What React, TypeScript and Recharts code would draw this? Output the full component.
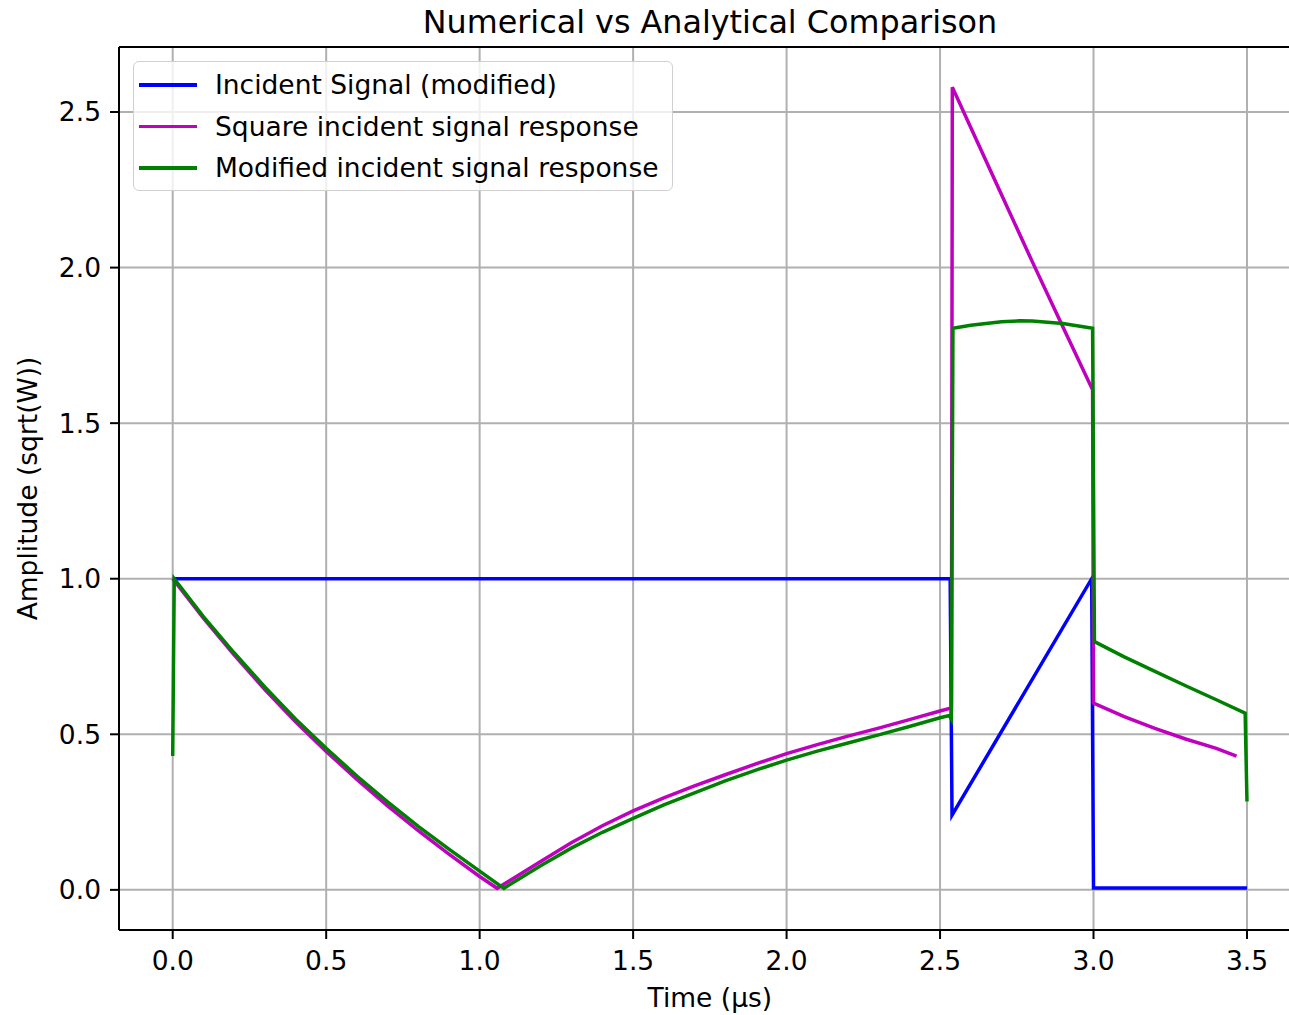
import React from "react";
import {
  CartesianGrid,
  Label,
  Legend,
  Line,
  LineChart,
  ReferenceLine,
  XAxis,
  YAxis,
} from "recharts";

// time axis in µs, amplitude in sqrt(W)
const incidentT = [0, 2.533, 2.539, 2.994, 3.0, 3.5];
const incidentV = [1.0, 1.0, 0.24, 1.0, 0.006, 0.006];

const squareT = [
  0, 0.1, 0.2, 0.3, 0.4, 0.5, 0.6, 0.7, 0.8, 0.9, 1.0, 1.057, 1.1, 1.2, 1.3,
  1.4, 1.5, 1.6, 1.7, 1.8, 1.9, 2.0, 2.1, 2.2, 2.3, 2.4, 2.5, 2.537, 2.54,
  2.6, 2.7, 2.8, 2.9, 2.997, 3.0, 3.1, 3.2, 3.3, 3.4, 3.466,
];
const squareV = [
  1.0, 0.873, 0.755, 0.644, 0.54, 0.445, 0.355, 0.27, 0.19, 0.115, 0.043,
  0.005, 0.031, 0.092, 0.152, 0.206, 0.254, 0.296, 0.334, 0.37, 0.405, 0.438,
  0.467, 0.494, 0.52, 0.547, 0.575, 0.585, 2.58, 2.45, 2.235, 2.02, 1.81,
  1.607, 0.6, 0.557, 0.519, 0.485, 0.455, 0.43,
];

const modifiedT = [
  0, 0.005, 0.1, 0.2, 0.3, 0.4, 0.5, 0.6, 0.7, 0.8, 0.9, 1.0, 1.079, 1.1, 1.2,
  1.3, 1.4, 1.5, 1.6, 1.7, 1.8, 1.9, 2.0, 2.1, 2.2, 2.3, 2.4, 2.5, 2.53,
  2.537, 2.542, 2.6, 2.7, 2.76, 2.8, 2.9, 2.997, 3.003, 3.1, 3.2, 3.3, 3.4,
  3.494, 3.5,
];
const modifiedV = [
  0.43, 1.0, 0.878, 0.762, 0.652, 0.549, 0.455, 0.366, 0.283, 0.204, 0.131,
  0.06, 0.005, 0.018, 0.078, 0.135, 0.185, 0.23, 0.273, 0.312, 0.35, 0.385,
  0.417, 0.446, 0.472, 0.498, 0.525, 0.553, 0.56, 0.548, 1.805, 1.815, 1.826,
  1.829, 1.828, 1.82, 1.805, 0.798, 0.749, 0.702, 0.656, 0.611, 0.568, 0.284,
];

const seriesNames = [
  "Incident Signal (modified)",
  "Square incident signal response",
  "Modified incident signal response",
];

const xTicks = [0, 0.5, 1.0, 1.5, 2.0, 2.5, 3.0, 3.5];
const yTicks = [0, 0.5, 1.0, 1.5, 2.0, 2.5];
const X_MIN = -0.175;
const X_MAX = 3.675;
const Y_MIN = -0.129;
const Y_MAX = 2.709;

const FONT = "'DejaVu Sans', sans-serif";
const FS = 26.5;

function toPoints(ts: number[], vs: number[]) {
  return ts.map((t, i) => ({ t, v: vs[i] }));
}

const incident = toPoints(incidentT, incidentV);
const square = toPoints(squareT, squareV);
const modified = toPoints(modifiedT, modifiedV);

function LegendBox(props: any) {
  // keep plotting order, recharts sorts by name otherwise
  const items = [...(props.payload || [])].sort(
    (a: any, b: any) => seriesNames.indexOf(a.value) - seriesNames.indexOf(b.value)
  );
  return (
    <div
      style={{
        width: 540,
        height: 130,
        border: "1.5px solid #d0d0d0",
        borderRadius: 6,
        background: "rgba(255,255,255,0.8)",
        fontFamily: FONT,
        fontSize: FS,
        color: "#000",
        boxSizing: "border-box",
        paddingTop: 2,
      }}
    >
      {items.map((it: any) => (
        <div
          key={it.value}
          style={{ display: "flex", alignItems: "center", height: 41.5 }}
        >
          <div
            style={{
              marginLeft: 5,
              width: 58,
              height: 3.5,
              background: it.color,
            }}
          />
          <span style={{ marginLeft: 18, whiteSpace: "nowrap" }}>
            {it.value}
          </span>
        </div>
      ))}
    </div>
  );
}

export default function App() {
  return (
    <div
      style={{
        position: "absolute",
        left: 0,
        top: 0,
        width: 1289,
        height: 1015,
        overflow: "hidden",
        background: "#fff",
      }}
    >
      <div
        style={{
          position: "absolute",
          left: 119,
          width: 1182,
          top: 3,
          textAlign: "center",
          fontFamily: FONT,
          fontSize: 31.8,
          color: "#000",
          whiteSpace: "nowrap",
        }}
      >
        Numerical vs Analytical Comparison
      </div>
      <LineChart
        width={1320}
        height={1015}
        margin={{ top: 47, right: 19.3, bottom: 0, left: 0 }}
        style={{ position: "absolute", left: 0, top: 0 }}
      >
        <CartesianGrid stroke="#b0b0b0" strokeWidth={2} />
        <XAxis
          dataKey="t"
          type="number"
          domain={[X_MIN, X_MAX]}
          allowDataOverflow
          ticks={xTicks}
          tickFormatter={(v: number) => v.toFixed(1)}
          height={85}
          tickSize={9}
          tickMargin={12}
          axisLine={{ stroke: "#000", strokeWidth: 2 }}
          tickLine={{ stroke: "#000", strokeWidth: 2 }}
          tick={{ fontSize: FS, fill: "#000", fontFamily: FONT }}
        >
          <Label
            value="Time (µs)"
            position="insideBottom"
            offset={8}
            style={{ fontSize: FS, fill: "#000", fontFamily: FONT }}
          />
        </XAxis>
        <YAxis
          type="number"
          domain={[Y_MIN, Y_MAX]}
          allowDataOverflow
          ticks={yTicks}
          tickFormatter={(v: number) => v.toFixed(1)}
          width={119}
          tickSize={9}
          tickMargin={9}
          axisLine={{ stroke: "#000", strokeWidth: 2 }}
          tickLine={{ stroke: "#000", strokeWidth: 2 }}
          tick={{ fontSize: FS, fill: "#000", fontFamily: FONT }}
        >
          <Label
            value="Amplitude (sqrt(W))"
            position="insideLeft"
            angle={-90}
            offset={28}
            style={{
              fontSize: FS,
              fill: "#000",
              fontFamily: FONT,
              textAnchor: "middle",
            }}
          />
        </YAxis>
        <ReferenceLine y={Y_MAX} stroke="#000" strokeWidth={2} />
        <ReferenceLine x={X_MAX} stroke="#000" strokeWidth={2} />
        <Legend
          layout="vertical"
          align="center"
          verticalAlign="middle"
          wrapperStyle={{ left: 133, top: 61, width: 540 }}
          content={<LegendBox />}
        />
        <Line
          data={incident}
          dataKey="v"
          name={seriesNames[0]}
          type="linear"
          stroke="#0000ff"
          strokeWidth={3.5}
          dot={false}
          activeDot={false}
          isAnimationActive={false}
        />
        <Line
          data={square}
          dataKey="v"
          name={seriesNames[1]}
          type="linear"
          stroke="#bf00bf"
          strokeWidth={3.5}
          dot={false}
          activeDot={false}
          isAnimationActive={false}
        />
        <Line
          data={modified}
          dataKey="v"
          name={seriesNames[2]}
          type="linear"
          stroke="#008000"
          strokeWidth={3.5}
          dot={false}
          activeDot={false}
          isAnimationActive={false}
        />
      </LineChart>
    </div>
  );
}
